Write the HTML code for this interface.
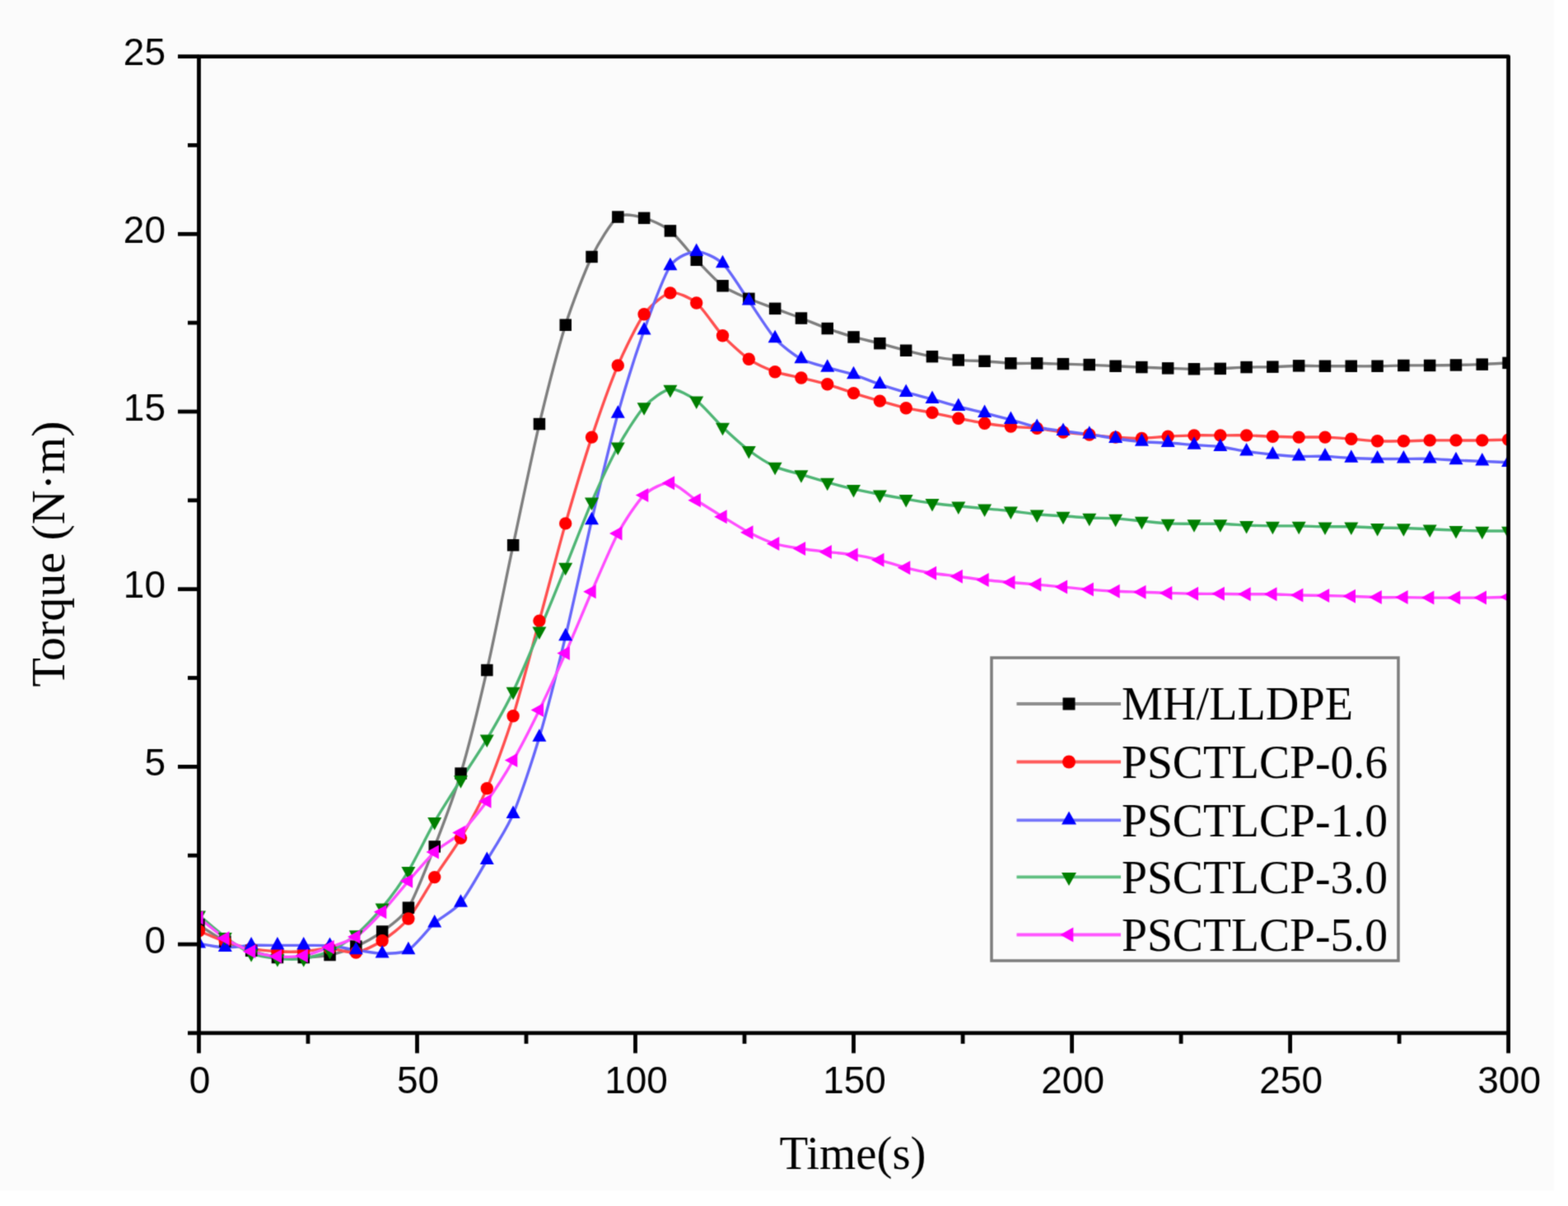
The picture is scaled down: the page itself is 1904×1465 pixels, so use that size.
<!DOCTYPE html><html><head><meta charset="utf-8"><title>Torque vs Time</title><style>html,body{margin:0;padding:0;background:#fff;}svg{display:block;}</style></head><body>
<svg width="1904" height="1465" viewBox="0 0 1904 1465">
<defs><filter id="bl" x="0" y="0" width="100%" height="100%" color-interpolation-filters="sRGB"><feConvolveMatrix order="3" kernelMatrix="0.02768 0.11101 0.02768 0.11101 0.44521 0.11101 0.02768 0.11101 0.02768" divisor="1" edgeMode="duplicate" preserveAlpha="true"/></filter></defs>
<g filter="url(#bl)">
<rect x="0" y="0" width="1904" height="1465" fill="#ffffff"/>
<rect x="0" y="0" width="1887" height="1446" fill="#fbfbfb"/>
<defs><clipPath id="pc"><rect x="241.5" y="68.6" width="1590.1" height="1186.3"/></clipPath></defs>
<g clip-path="url(#pc)" fill="none" stroke-width="3.4" stroke-linejoin="round" stroke-linecap="round">
<path stroke="#7e7e7e" d="M241.5,1123.4C245.5,1125.9 265.4,1139.7 273.3,1143.6C281.3,1147.6 297.2,1152.4 305.1,1154.9C313.1,1157.3 329,1162 336.9,1163.1C344.9,1164.1 360.8,1163.4 368.7,1163.1C376.7,1162.7 392.6,1161.7 400.5,1160C408.5,1158.4 424.4,1153.2 432.3,1149.7C440.3,1146.1 456.2,1137.4 464.1,1131.6C472.1,1125.7 488,1115.6 495.9,1102.7C503.9,1089.8 519.8,1048.8 527.7,1028.5C535.7,1008.1 551.6,966.4 559.5,939.6C567.5,912.8 583.4,848.7 591.3,814.1C599.3,779.4 615.2,699.6 623.1,662.2C631.1,624.8 647,548.5 654.9,515.1C662.9,481.7 678.8,420.1 686.7,394.7C694.7,369.3 710.6,328.3 718.5,311.9C726.5,295.5 742.4,269.5 750.3,263.6C758.3,257.7 774.2,262.8 782.1,264.9C790.1,267 806,274.1 813.9,280.4C821.9,286.8 837.8,307.4 845.7,315.8C853.7,324.2 869.6,341.4 877.5,347.3C885.5,353.2 901.4,359.4 909.3,362.8C917.3,366.3 933.2,371.9 941.1,374.9C949.1,377.9 965,383.5 972.9,386.5C980.9,389.6 996.8,396.2 1004.7,399.1C1012.7,401.9 1028.6,407.1 1036.5,409.4C1044.5,411.7 1060.4,415.1 1068.4,417.2C1076.3,419.2 1092.2,423.8 1100.2,425.8C1108.1,427.8 1124,431.7 1132,433.1C1139.9,434.6 1155.8,436.7 1163.8,437.4C1171.7,438.1 1187.6,438.3 1195.6,438.7C1203.5,439.2 1219.4,441 1227.4,441.3C1235.3,441.7 1251.2,441.2 1259.2,441.3C1267.1,441.4 1283,442 1291,442.2C1298.9,442.4 1314.8,442.7 1322.8,443.1C1330.7,443.4 1346.6,444.4 1354.6,444.8C1362.5,445.2 1378.4,445.8 1386.4,446.1C1394.3,446.4 1410.2,447.1 1418.2,447.4C1426.1,447.6 1442,448.2 1450,448.2C1457.9,448.3 1473.8,448.1 1481.8,447.8C1489.7,447.5 1505.6,446.3 1513.6,446.1C1521.5,445.8 1537.4,445.9 1545.4,445.6C1553.3,445.4 1569.2,444.5 1577.2,444.3C1585.1,444.2 1601,444.7 1609,444.8C1616.9,444.8 1632.8,444.8 1640.8,444.8C1648.7,444.8 1664.6,444.9 1672.6,444.8C1680.5,444.7 1696.4,444 1704.4,443.9C1712.3,443.8 1728.2,444 1736.2,443.9C1744.1,443.9 1760,443.6 1768,443.5C1775.9,443.3 1791.8,442.9 1799.8,442.6C1807.7,442.3 1827.6,441.1 1831.6,440.9"/>
<path stroke="#ff4e4e" d="M241.5,1130.7C245.5,1132.3 265.4,1141 273.3,1143.6C281.3,1146.3 297.2,1150.8 305.1,1152.3C313.1,1153.8 329,1155.3 336.9,1155.7C344.9,1156.2 360.8,1156.2 368.7,1155.7C376.7,1155.3 392.6,1152.1 400.5,1152.3C408.5,1152.4 424.4,1158.2 432.3,1157C440.3,1155.8 456.2,1147.9 464.1,1142.8C472.1,1137.7 488,1125.7 495.9,1116C503.9,1106.4 519.8,1077.8 527.7,1065.6C535.7,1053.3 551.6,1031.6 559.5,1018.1C567.5,1004.6 583.4,976.3 591.3,957.7C599.3,939.2 615.2,895.2 623.1,869.7C631.1,844.3 647,783.3 654.9,754.1C662.9,724.9 678.8,663.8 686.7,635.9C694.7,608 710.6,555.1 718.5,531.1C726.5,507.1 742.4,462.6 750.3,443.9C758.3,425.3 774.2,392.8 782.1,381.8C790.1,370.8 806,357.6 813.9,355.9C821.9,354.2 837.8,361.5 845.7,368C853.7,374.5 869.6,399.2 877.5,407.7C885.5,416.2 901.4,430.7 909.3,436.2C917.3,441.7 933.2,448.8 941.1,451.7C949.1,454.5 965,457.1 972.9,459C980.9,460.9 996.8,464.5 1004.7,466.8C1012.7,469.1 1028.6,475 1036.5,477.6C1044.5,480.1 1060.4,484.8 1068.4,487.1C1076.3,489.3 1092.2,493.9 1100.2,495.7C1108.1,497.5 1124,499.7 1132,501.3C1139.9,502.9 1155.8,506.6 1163.8,508.2C1171.7,509.8 1187.6,513 1195.6,514.2C1203.5,515.5 1219.4,517.4 1227.4,518.1C1235.3,518.9 1251.2,519.4 1259.2,520.3C1267.1,521.1 1283,524.1 1291,525C1298.9,526 1314.8,527.3 1322.8,528C1330.7,528.8 1346.6,530.5 1354.6,531.1C1362.5,531.6 1378.4,532.5 1386.4,532.4C1394.3,532.2 1410.2,530.6 1418.2,530.2C1426.1,529.8 1442,529.1 1450,528.9C1457.9,528.7 1473.8,528.9 1481.8,528.9C1489.7,528.9 1505.6,528.7 1513.6,528.9C1521.5,529.1 1537.4,529.9 1545.4,530.2C1553.3,530.5 1569.2,531 1577.2,531.1C1585.1,531.2 1601,530.8 1609,531.1C1616.9,531.3 1632.8,532.6 1640.8,533.2C1648.7,533.8 1664.6,535.5 1672.6,535.8C1680.5,536.1 1696.4,535.9 1704.4,535.8C1712.3,535.7 1728.2,535.1 1736.2,534.9C1744.1,534.8 1760,534.9 1768,534.9C1775.9,534.9 1791.8,535.1 1799.8,534.9C1807.7,534.8 1827.6,534.2 1831.6,534.1"/>
<path stroke="#6666fa" d="M241.5,1146.2C245.5,1146.8 265.4,1150.7 273.3,1151C281.3,1151.2 297.2,1148.7 305.1,1148.4C313.1,1148.1 329,1148.4 336.9,1148.4C344.9,1148.4 360.8,1148.3 368.7,1148.4C376.7,1148.4 392.6,1148.1 400.5,1148.8C408.5,1149.5 424.4,1152.8 432.3,1154C440.3,1155.2 456.2,1158.3 464.1,1158.3C472.1,1158.3 488,1158.6 495.9,1154C503.9,1149.4 519.8,1128.4 527.7,1121.2C535.7,1114 551.6,1106.2 559.5,1096.6C567.5,1087.1 583.4,1058.3 591.3,1044.9C599.3,1031.4 615.2,1007.4 623.1,988.8C631.1,970.1 647,922.6 654.9,895.6C662.9,868.6 678.8,806 686.7,773.1C694.7,740.1 710.6,665.8 718.5,632C726.5,598.2 742.4,531.4 750.3,502.6C758.3,473.7 774.2,423.6 782.1,401.2C790.1,378.8 806,335 813.9,323.1C821.9,311.2 837.8,306.2 845.7,305.9C853.7,305.5 869.6,312.7 877.5,320.1C885.5,327.5 901.4,354 909.3,365.4C917.3,376.8 933.2,402.3 941.1,411.1C949.1,420 965,431.7 972.9,436.1C980.9,440.6 996.8,444.1 1004.7,446.5C1012.7,448.9 1028.6,452.6 1036.5,455.1C1044.5,457.7 1060.4,464.1 1068.4,466.8C1076.3,469.5 1092.2,474.4 1100.2,476.7C1108.1,479 1124,482.7 1132,484.9C1139.9,487.1 1155.8,491.9 1163.8,494C1171.7,496.1 1187.6,499.7 1195.6,501.7C1203.5,503.7 1219.4,507.8 1227.4,509.9C1235.3,512.1 1251.2,517.3 1259.2,519C1267.1,520.7 1283,522.6 1291,523.7C1298.9,524.8 1314.8,526.5 1322.8,527.6C1330.7,528.7 1346.6,531.6 1354.6,532.8C1362.5,533.9 1378.4,536 1386.4,536.7C1394.3,537.3 1410.2,537.5 1418.2,538C1426.1,538.4 1442,540 1450,540.5C1457.9,541.1 1473.8,541.7 1481.8,542.7C1489.7,543.7 1505.6,547.1 1513.6,548.3C1521.5,549.5 1537.4,551.4 1545.4,552.2C1553.3,552.9 1569.2,554.1 1577.2,554.4C1585.1,554.6 1601,554.1 1609,554.4C1616.9,554.6 1632.8,556.1 1640.8,556.5C1648.7,556.9 1664.6,557.3 1672.6,557.4C1680.5,557.5 1696.4,557.4 1704.4,557.4C1712.3,557.4 1728.2,557.2 1736.2,557.4C1744.1,557.6 1760,558.7 1768,559.1C1775.9,559.5 1791.8,560.1 1799.8,560.4C1807.7,560.7 1827.6,561.5 1831.6,561.7"/>
<path stroke="#4eb574" d="M241.5,1111.7C245.5,1115 265.4,1132.2 273.3,1138C281.3,1143.9 297.2,1155 305.1,1158.3C313.1,1161.6 329,1163.6 336.9,1164.4C344.9,1165.1 360.8,1165.5 368.7,1164.4C376.7,1163.2 392.6,1158.9 400.5,1155.3C408.5,1151.7 424.4,1142 432.3,1135.5C440.3,1128.9 456.2,1112.3 464.1,1102.7C472.1,1093 488,1071.3 495.9,1058.2C503.9,1045.2 519.8,1012.1 527.7,998.3C535.7,984.4 551.6,959.9 559.5,947.4C567.5,934.8 583.4,911.2 591.3,897.8C599.3,884.3 615.2,856.3 623.1,839.9C631.1,823.6 647,785.5 654.9,766.6C662.9,747.7 678.8,708.6 686.7,689C694.7,669.3 710.6,627.9 718.5,609.6C726.5,591.3 742.4,557.1 750.3,542.7C758.3,528.3 774.2,503.1 782.1,494.4C790.1,485.7 806,473.8 813.9,472.8C821.9,471.9 837.8,480.9 845.7,486.6C853.7,492.4 869.6,511.4 877.5,519C885.5,526.5 901.4,541 909.3,547C917.3,553 933.2,563.2 941.1,566.9C949.1,570.5 965,574 972.9,576.4C980.9,578.7 996.8,583.6 1004.7,585.9C1012.7,588.1 1028.6,592.2 1036.5,594.1C1044.5,595.9 1060.4,599 1068.4,600.5C1076.3,602 1092.2,604.8 1100.2,606.1C1108.1,607.5 1124,610.2 1132,611.3C1139.9,612.4 1155.8,613.9 1163.8,614.8C1171.7,615.6 1187.6,617 1195.6,617.8C1203.5,618.5 1219.4,619.9 1227.4,620.8C1235.3,621.7 1251.2,623.9 1259.2,624.7C1267.1,625.4 1283,626.3 1291,626.8C1298.9,627.4 1314.8,628.6 1322.8,629C1330.7,629.4 1346.6,629.4 1354.6,629.9C1362.5,630.3 1378.4,632.1 1386.4,632.9C1394.3,633.6 1410.2,635.5 1418.2,635.9C1426.1,636.3 1442,636.3 1450,636.3C1457.9,636.4 1473.8,636.1 1481.8,636.3C1489.7,636.5 1505.6,637.7 1513.6,638.1C1521.5,638.4 1537.4,638.8 1545.4,638.9C1553.3,639 1569.2,638.8 1577.2,638.9C1585.1,639 1601,639.7 1609,639.8C1616.9,639.9 1632.8,639.6 1640.8,639.8C1648.7,639.9 1664.6,640.9 1672.6,641.1C1680.5,641.3 1696.4,641.3 1704.4,641.5C1712.3,641.7 1728.2,642.5 1736.2,642.8C1744.1,643.1 1760,643.8 1768,644.1C1775.9,644.4 1791.8,644.8 1799.8,645C1807.7,645.1 1827.6,645 1831.6,645"/>
<path stroke="#ff4cff" d="M241.5,1114.7C245.5,1117.9 265.4,1134.6 273.3,1139.8C281.3,1144.9 297.2,1153 305.1,1155.7C313.1,1158.5 329,1161.1 336.9,1161.8C344.9,1162.4 360.8,1162.3 368.7,1160.9C376.7,1159.5 392.6,1153.4 400.5,1150.6C408.5,1147.7 424.4,1143.4 432.3,1138C440.3,1132.7 456.2,1116.3 464.1,1107.8C472.1,1099.4 488,1079.4 495.9,1070.3C503.9,1061.2 519.8,1042.3 527.7,1034.9C535.7,1027.6 551.6,1019.4 559.5,1011.6C567.5,1003.9 583.4,984.2 591.3,973.2C599.3,962.2 615.2,937.5 623.1,923.6C631.1,909.8 647,878.7 654.9,862.4C662.9,846.1 678.8,811.3 686.7,793.4C694.7,775.4 710.6,736.9 718.5,718.7C726.5,700.5 742.4,662.6 750.3,648C758.3,633.3 774.2,609 782.1,601.4C790.1,593.7 806,585.9 813.9,586.7C821.9,587.5 837.8,602.7 845.7,607.8C853.7,613 869.6,622.8 877.5,627.7C885.5,632.5 901.4,642.6 909.3,646.7C917.3,650.8 933.2,658 941.1,660.5C949.1,663 965,665.3 972.9,666.5C980.9,667.8 996.8,669.5 1004.7,670.4C1012.7,671.3 1028.6,672.6 1036.5,673.9C1044.5,675.1 1060.4,678.3 1068.4,680.3C1076.3,682.3 1092.2,687.8 1100.2,689.8C1108.1,691.8 1124,695 1132,696.3C1139.9,697.6 1155.8,699.1 1163.8,700.2C1171.7,701.2 1187.6,703.6 1195.6,704.5C1203.5,705.4 1219.4,706.8 1227.4,707.5C1235.3,708.2 1251.2,709.4 1259.2,710.1C1267.1,710.8 1283,712.4 1291,713.1C1298.9,713.9 1314.8,715.5 1322.8,716.1C1330.7,716.8 1346.6,717.9 1354.6,718.3C1362.5,718.7 1378.4,718.9 1386.4,719.2C1394.3,719.4 1410.2,720.2 1418.2,720.4C1426.1,720.7 1442,721.2 1450,721.3C1457.9,721.4 1473.8,721.3 1481.8,721.3C1489.7,721.4 1505.6,721.7 1513.6,721.7C1521.5,721.8 1537.4,721.6 1545.4,721.7C1553.3,721.9 1569.2,722.8 1577.2,723C1585.1,723.2 1601,723.3 1609,723.5C1616.9,723.6 1632.8,724.1 1640.8,724.3C1648.7,724.6 1664.6,725.5 1672.6,725.6C1680.5,725.8 1696.4,725.6 1704.4,725.6C1712.3,725.7 1728.2,726 1736.2,726.1C1744.1,726.1 1760,726.1 1768,726.1C1775.9,726.1 1791.8,726.2 1799.8,726.1C1807.7,725.9 1827.6,725.3 1831.6,725.2"/>
</g>
<g clip-path="url(#pc)">
<g fill="#000000">
<rect x="234.2" y="1116.1" width="14.5" height="14.5"/>
<rect x="266.1" y="1136.4" width="14.5" height="14.5"/>
<rect x="297.9" y="1147.6" width="14.5" height="14.5"/>
<rect x="329.7" y="1155.8" width="14.5" height="14.5"/>
<rect x="361.5" y="1155.8" width="14.5" height="14.5"/>
<rect x="393.3" y="1152.8" width="14.5" height="14.5"/>
<rect x="425.1" y="1142.4" width="14.5" height="14.5"/>
<rect x="456.9" y="1124.3" width="14.5" height="14.5"/>
<rect x="488.7" y="1095.4" width="14.5" height="14.5"/>
<rect x="520.5" y="1021.2" width="14.5" height="14.5"/>
<rect x="552.3" y="932.3" width="14.5" height="14.5"/>
<rect x="584.1" y="806.8" width="14.5" height="14.5"/>
<rect x="615.9" y="655" width="14.5" height="14.5"/>
<rect x="647.7" y="507.8" width="14.5" height="14.5"/>
<rect x="679.5" y="387.5" width="14.5" height="14.5"/>
<rect x="711.3" y="304.7" width="14.5" height="14.5"/>
<rect x="743.1" y="256.3" width="14.5" height="14.5"/>
<rect x="774.9" y="257.6" width="14.5" height="14.5"/>
<rect x="806.7" y="273.2" width="14.5" height="14.5"/>
<rect x="838.5" y="308.5" width="14.5" height="14.5"/>
<rect x="870.3" y="340" width="14.5" height="14.5"/>
<rect x="902.1" y="355.6" width="14.5" height="14.5"/>
<rect x="933.9" y="367.6" width="14.5" height="14.5"/>
<rect x="965.7" y="379.3" width="14.5" height="14.5"/>
<rect x="997.5" y="391.8" width="14.5" height="14.5"/>
<rect x="1029.3" y="402.2" width="14.5" height="14.5"/>
<rect x="1061.1" y="409.9" width="14.5" height="14.5"/>
<rect x="1092.9" y="418.5" width="14.5" height="14.5"/>
<rect x="1124.7" y="425.9" width="14.5" height="14.5"/>
<rect x="1156.5" y="430.2" width="14.5" height="14.5"/>
<rect x="1188.3" y="431.5" width="14.5" height="14.5"/>
<rect x="1220.1" y="434.1" width="14.5" height="14.5"/>
<rect x="1251.9" y="434.1" width="14.5" height="14.5"/>
<rect x="1283.7" y="434.9" width="14.5" height="14.5"/>
<rect x="1315.5" y="435.8" width="14.5" height="14.5"/>
<rect x="1347.3" y="437.5" width="14.5" height="14.5"/>
<rect x="1379.1" y="438.8" width="14.5" height="14.5"/>
<rect x="1410.9" y="440.1" width="14.5" height="14.5"/>
<rect x="1442.7" y="441" width="14.5" height="14.5"/>
<rect x="1474.5" y="440.6" width="14.5" height="14.5"/>
<rect x="1506.3" y="438.8" width="14.5" height="14.5"/>
<rect x="1538.1" y="438.4" width="14.5" height="14.5"/>
<rect x="1569.9" y="437.1" width="14.5" height="14.5"/>
<rect x="1601.7" y="437.5" width="14.5" height="14.5"/>
<rect x="1633.5" y="437.5" width="14.5" height="14.5"/>
<rect x="1665.3" y="437.5" width="14.5" height="14.5"/>
<rect x="1697.1" y="436.7" width="14.5" height="14.5"/>
<rect x="1728.9" y="436.7" width="14.5" height="14.5"/>
<rect x="1760.7" y="436.2" width="14.5" height="14.5"/>
<rect x="1792.5" y="435.4" width="14.5" height="14.5"/>
<rect x="1824.3" y="433.6" width="14.5" height="14.5"/>
</g>
<g fill="#ff0000">
<circle cx="241.5" cy="1130.7" r="7.7"/>
<circle cx="273.3" cy="1143.6" r="7.7"/>
<circle cx="305.1" cy="1152.3" r="7.7"/>
<circle cx="336.9" cy="1155.7" r="7.7"/>
<circle cx="368.7" cy="1155.7" r="7.7"/>
<circle cx="400.5" cy="1152.3" r="7.7"/>
<circle cx="432.3" cy="1157" r="7.7"/>
<circle cx="464.1" cy="1142.8" r="7.7"/>
<circle cx="495.9" cy="1116" r="7.7"/>
<circle cx="527.7" cy="1065.6" r="7.7"/>
<circle cx="559.5" cy="1018.1" r="7.7"/>
<circle cx="591.3" cy="957.7" r="7.7"/>
<circle cx="623.1" cy="869.7" r="7.7"/>
<circle cx="654.9" cy="754.1" r="7.7"/>
<circle cx="686.7" cy="635.9" r="7.7"/>
<circle cx="718.5" cy="531.1" r="7.7"/>
<circle cx="750.3" cy="443.9" r="7.7"/>
<circle cx="782.1" cy="381.8" r="7.7"/>
<circle cx="813.9" cy="355.9" r="7.7"/>
<circle cx="845.7" cy="368" r="7.7"/>
<circle cx="877.5" cy="407.7" r="7.7"/>
<circle cx="909.3" cy="436.2" r="7.7"/>
<circle cx="941.1" cy="451.7" r="7.7"/>
<circle cx="972.9" cy="459" r="7.7"/>
<circle cx="1004.7" cy="466.8" r="7.7"/>
<circle cx="1036.5" cy="477.6" r="7.7"/>
<circle cx="1068.4" cy="487.1" r="7.7"/>
<circle cx="1100.2" cy="495.7" r="7.7"/>
<circle cx="1132" cy="501.3" r="7.7"/>
<circle cx="1163.8" cy="508.2" r="7.7"/>
<circle cx="1195.6" cy="514.2" r="7.7"/>
<circle cx="1227.4" cy="518.1" r="7.7"/>
<circle cx="1259.2" cy="520.3" r="7.7"/>
<circle cx="1291" cy="525" r="7.7"/>
<circle cx="1322.8" cy="528" r="7.7"/>
<circle cx="1354.6" cy="531.1" r="7.7"/>
<circle cx="1386.4" cy="532.4" r="7.7"/>
<circle cx="1418.2" cy="530.2" r="7.7"/>
<circle cx="1450" cy="528.9" r="7.7"/>
<circle cx="1481.8" cy="528.9" r="7.7"/>
<circle cx="1513.6" cy="528.9" r="7.7"/>
<circle cx="1545.4" cy="530.2" r="7.7"/>
<circle cx="1577.2" cy="531.1" r="7.7"/>
<circle cx="1609" cy="531.1" r="7.7"/>
<circle cx="1640.8" cy="533.2" r="7.7"/>
<circle cx="1672.6" cy="535.8" r="7.7"/>
<circle cx="1704.4" cy="535.8" r="7.7"/>
<circle cx="1736.2" cy="534.9" r="7.7"/>
<circle cx="1768" cy="534.9" r="7.7"/>
<circle cx="1799.8" cy="534.9" r="7.7"/>
<circle cx="1831.6" cy="534.1" r="7.7"/>
</g>
<g fill="#0000ff">
<path d="M241.5,1135.9L250,1151.4L233,1151.4Z"/>
<path d="M273.3,1140.6L281.8,1156.1L264.8,1156.1Z"/>
<path d="M305.1,1138.1L313.6,1153.6L296.6,1153.6Z"/>
<path d="M336.9,1138.1L345.4,1153.6L328.4,1153.6Z"/>
<path d="M368.7,1138.1L377.2,1153.6L360.2,1153.6Z"/>
<path d="M400.5,1138.5L409,1154L392,1154Z"/>
<path d="M432.3,1143.7L440.8,1159.2L423.8,1159.2Z"/>
<path d="M464.1,1148L472.6,1163.5L455.6,1163.5Z"/>
<path d="M495.9,1143.7L504.4,1159.2L487.4,1159.2Z"/>
<path d="M527.7,1110.9L536.2,1126.4L519.2,1126.4Z"/>
<path d="M559.5,1086.3L568,1101.8L551,1101.8Z"/>
<path d="M591.3,1034.5L599.8,1050L582.8,1050Z"/>
<path d="M623.1,978.4L631.6,993.9L614.6,993.9Z"/>
<path d="M654.9,885.3L663.4,900.8L646.4,900.8Z"/>
<path d="M686.7,762.7L695.2,778.2L678.2,778.2Z"/>
<path d="M718.5,621.7L727,637.2L710,637.2Z"/>
<path d="M750.3,492.2L758.8,507.7L741.8,507.7Z"/>
<path d="M782.1,390.9L790.6,406.4L773.6,406.4Z"/>
<path d="M813.9,312.8L822.4,328.3L805.4,328.3Z"/>
<path d="M845.7,295.5L854.2,311L837.2,311Z"/>
<path d="M877.5,309.8L886,325.3L869,325.3Z"/>
<path d="M909.3,355.1L917.8,370.6L900.8,370.6Z"/>
<path d="M941.1,400.8L949.6,416.3L932.6,416.3Z"/>
<path d="M972.9,425.8L981.4,441.3L964.4,441.3Z"/>
<path d="M1004.7,436.2L1013.2,451.7L996.2,451.7Z"/>
<path d="M1036.5,444.8L1045,460.3L1028,460.3Z"/>
<path d="M1068.4,456.4L1076.9,471.9L1059.9,471.9Z"/>
<path d="M1100.2,466.4L1108.7,481.9L1091.7,481.9Z"/>
<path d="M1132,474.6L1140.5,490.1L1123.5,490.1Z"/>
<path d="M1163.8,483.6L1172.3,499.1L1155.3,499.1Z"/>
<path d="M1195.6,491.4L1204.1,506.9L1187.1,506.9Z"/>
<path d="M1227.4,499.6L1235.9,515.1L1218.9,515.1Z"/>
<path d="M1259.2,508.6L1267.7,524.1L1250.7,524.1Z"/>
<path d="M1291,513.4L1299.5,528.9L1282.5,528.9Z"/>
<path d="M1322.8,517.3L1331.3,532.8L1314.3,532.8Z"/>
<path d="M1354.6,522.4L1363.1,537.9L1346.1,537.9Z"/>
<path d="M1386.4,526.3L1394.9,541.8L1377.9,541.8Z"/>
<path d="M1418.2,527.6L1426.7,543.1L1409.7,543.1Z"/>
<path d="M1450,530.2L1458.5,545.7L1441.5,545.7Z"/>
<path d="M1481.8,532.4L1490.3,547.9L1473.3,547.9Z"/>
<path d="M1513.6,538L1522.1,553.5L1505.1,553.5Z"/>
<path d="M1545.4,541.9L1553.9,557.4L1536.9,557.4Z"/>
<path d="M1577.2,544L1585.7,559.5L1568.7,559.5Z"/>
<path d="M1609,544L1617.5,559.5L1600.5,559.5Z"/>
<path d="M1640.8,546.2L1649.3,561.7L1632.3,561.7Z"/>
<path d="M1672.6,547L1681.1,562.5L1664.1,562.5Z"/>
<path d="M1704.4,547L1712.9,562.5L1695.9,562.5Z"/>
<path d="M1736.2,547L1744.7,562.5L1727.7,562.5Z"/>
<path d="M1768,548.8L1776.5,564.3L1759.5,564.3Z"/>
<path d="M1799.8,550.1L1808.3,565.6L1791.3,565.6Z"/>
<path d="M1831.6,551.4L1840.1,566.9L1823.1,566.9Z"/>
</g>
<g fill="#007f00">
<path d="M233,1106.6L250,1106.6L241.5,1122.1Z"/>
<path d="M264.8,1132.9L281.8,1132.9L273.3,1148.4Z"/>
<path d="M296.6,1153.2L313.6,1153.2L305.1,1168.7Z"/>
<path d="M328.4,1159.2L345.4,1159.2L336.9,1174.7Z"/>
<path d="M360.2,1159.2L377.2,1159.2L368.7,1174.7Z"/>
<path d="M392,1150.1L409,1150.1L400.5,1165.6Z"/>
<path d="M423.8,1130.3L440.8,1130.3L432.3,1145.8Z"/>
<path d="M455.6,1097.5L472.6,1097.5L464.1,1113Z"/>
<path d="M487.4,1053.1L504.4,1053.1L495.9,1068.6Z"/>
<path d="M519.2,993.1L536.2,993.1L527.7,1008.6Z"/>
<path d="M551,942.2L568,942.2L559.5,957.7Z"/>
<path d="M582.8,892.6L599.8,892.6L591.3,908.1Z"/>
<path d="M614.6,834.8L631.6,834.8L623.1,850.3Z"/>
<path d="M646.4,761.4L663.4,761.4L654.9,776.9Z"/>
<path d="M678.2,683.8L695.2,683.8L686.7,699.3Z"/>
<path d="M710,604.4L727,604.4L718.5,619.9Z"/>
<path d="M741.8,537.5L758.8,537.5L750.3,553Z"/>
<path d="M773.6,489.2L790.6,489.2L782.1,504.7Z"/>
<path d="M805.4,467.7L822.4,467.7L813.9,483.2Z"/>
<path d="M837.2,481.5L854.2,481.5L845.7,497Z"/>
<path d="M869,513.8L886,513.8L877.5,529.3Z"/>
<path d="M900.8,541.9L917.8,541.9L909.3,557.4Z"/>
<path d="M932.6,561.7L949.6,561.7L941.1,577.2Z"/>
<path d="M964.4,571.2L981.4,571.2L972.9,586.7Z"/>
<path d="M996.2,580.7L1013.2,580.7L1004.7,596.2Z"/>
<path d="M1028,588.9L1045,588.9L1036.5,604.4Z"/>
<path d="M1059.9,595.4L1076.9,595.4L1068.4,610.9Z"/>
<path d="M1091.7,601L1108.7,601L1100.2,616.5Z"/>
<path d="M1123.5,606.1L1140.5,606.1L1132,621.6Z"/>
<path d="M1155.3,609.6L1172.3,609.6L1163.8,625.1Z"/>
<path d="M1187.1,612.6L1204.1,612.6L1195.6,628.1Z"/>
<path d="M1218.9,615.6L1235.9,615.6L1227.4,631.1Z"/>
<path d="M1250.7,619.5L1267.7,619.5L1259.2,635Z"/>
<path d="M1282.5,621.7L1299.5,621.7L1291,637.2Z"/>
<path d="M1314.3,623.8L1331.3,623.8L1322.8,639.3Z"/>
<path d="M1346.1,624.7L1363.1,624.7L1354.6,640.2Z"/>
<path d="M1377.9,627.7L1394.9,627.7L1386.4,643.2Z"/>
<path d="M1409.7,630.7L1426.7,630.7L1418.2,646.2Z"/>
<path d="M1441.5,631.2L1458.5,631.2L1450,646.7Z"/>
<path d="M1473.3,631.2L1490.3,631.2L1481.8,646.7Z"/>
<path d="M1505.1,632.9L1522.1,632.9L1513.6,648.4Z"/>
<path d="M1536.9,633.7L1553.9,633.7L1545.4,649.2Z"/>
<path d="M1568.7,633.7L1585.7,633.7L1577.2,649.2Z"/>
<path d="M1600.5,634.6L1617.5,634.6L1609,650.1Z"/>
<path d="M1632.3,634.6L1649.3,634.6L1640.8,650.1Z"/>
<path d="M1664.1,635.9L1681.1,635.9L1672.6,651.4Z"/>
<path d="M1695.9,636.3L1712.9,636.3L1704.4,651.8Z"/>
<path d="M1727.7,637.6L1744.7,637.6L1736.2,653.1Z"/>
<path d="M1759.5,638.9L1776.5,638.9L1768,654.4Z"/>
<path d="M1791.3,639.8L1808.3,639.8L1799.8,655.3Z"/>
<path d="M1823.1,639.8L1840.1,639.8L1831.6,655.3Z"/>
</g>
<g fill="#ff00ff">
<path d="M231.2,1114.7L246.7,1106.2L246.7,1123.2Z"/>
<path d="M263,1139.8L278.5,1131.3L278.5,1148.3Z"/>
<path d="M294.8,1155.7L310.3,1147.2L310.3,1164.2Z"/>
<path d="M326.6,1161.8L342.1,1153.3L342.1,1170.3Z"/>
<path d="M358.4,1160.9L373.9,1152.4L373.9,1169.4Z"/>
<path d="M390.2,1150.6L405.7,1142.1L405.7,1159.1Z"/>
<path d="M422,1138L437.5,1129.5L437.5,1146.5Z"/>
<path d="M453.8,1107.8L469.3,1099.3L469.3,1116.3Z"/>
<path d="M485.6,1070.3L501.1,1061.8L501.1,1078.8Z"/>
<path d="M517.4,1034.9L532.9,1026.4L532.9,1043.4Z"/>
<path d="M549.2,1011.6L564.7,1003.1L564.7,1020.1Z"/>
<path d="M581,973.2L596.5,964.7L596.5,981.7Z"/>
<path d="M612.8,923.6L628.3,915.1L628.3,932.1Z"/>
<path d="M644.6,862.4L660.1,853.9L660.1,870.9Z"/>
<path d="M676.4,793.4L691.9,784.9L691.9,801.9Z"/>
<path d="M708.2,718.7L723.7,710.2L723.7,727.2Z"/>
<path d="M740,648L755.5,639.5L755.5,656.5Z"/>
<path d="M771.8,601.4L787.3,592.9L787.3,609.9Z"/>
<path d="M803.6,586.7L819.1,578.2L819.1,595.2Z"/>
<path d="M835.4,607.8L850.9,599.3L850.9,616.3Z"/>
<path d="M867.2,627.7L882.7,619.2L882.7,636.2Z"/>
<path d="M899,646.7L914.5,638.2L914.5,655.2Z"/>
<path d="M930.8,660.5L946.3,652L946.3,669Z"/>
<path d="M962.6,666.5L978.1,658L978.1,675Z"/>
<path d="M994.4,670.4L1009.9,661.9L1009.9,678.9Z"/>
<path d="M1026.2,673.9L1041.7,665.4L1041.7,682.4Z"/>
<path d="M1058,680.3L1073.5,671.8L1073.5,688.8Z"/>
<path d="M1089.8,689.8L1105.3,681.3L1105.3,698.3Z"/>
<path d="M1121.6,696.3L1137.1,687.8L1137.1,704.8Z"/>
<path d="M1153.4,700.2L1168.9,691.7L1168.9,708.7Z"/>
<path d="M1185.2,704.5L1200.7,696L1200.7,713Z"/>
<path d="M1217,707.5L1232.5,699L1232.5,716Z"/>
<path d="M1248.8,710.1L1264.3,701.6L1264.3,718.6Z"/>
<path d="M1280.6,713.1L1296.1,704.6L1296.1,721.6Z"/>
<path d="M1312.4,716.1L1327.9,707.6L1327.9,724.6Z"/>
<path d="M1344.2,718.3L1359.7,709.8L1359.7,726.8Z"/>
<path d="M1376,719.2L1391.5,710.7L1391.5,727.7Z"/>
<path d="M1407.8,720.4L1423.3,711.9L1423.3,728.9Z"/>
<path d="M1439.6,721.3L1455.1,712.8L1455.1,729.8Z"/>
<path d="M1471.4,721.3L1486.9,712.8L1486.9,729.8Z"/>
<path d="M1503.2,721.7L1518.7,713.2L1518.7,730.2Z"/>
<path d="M1535,721.7L1550.5,713.2L1550.5,730.2Z"/>
<path d="M1566.9,723L1582.4,714.5L1582.4,731.5Z"/>
<path d="M1598.7,723.5L1614.2,715L1614.2,732Z"/>
<path d="M1630.5,724.3L1646,715.8L1646,732.8Z"/>
<path d="M1662.3,725.6L1677.8,717.1L1677.8,734.1Z"/>
<path d="M1694.1,725.6L1709.6,717.1L1709.6,734.1Z"/>
<path d="M1725.9,726.1L1741.4,717.6L1741.4,734.6Z"/>
<path d="M1757.7,726.1L1773.2,717.6L1773.2,734.6Z"/>
<path d="M1789.5,726.1L1805,717.6L1805,734.6Z"/>
<path d="M1821.3,725.2L1836.8,716.7L1836.8,733.7Z"/>
</g>
</g>
<g stroke="#000" stroke-width="4.8" fill="none" stroke-linecap="butt">
<rect x="241.5" y="68.6" width="1590.1" height="1186.3" stroke-linejoin="round"/>
<line x1="216" y1="68.6" x2="241.5" y2="68.6"/>
<line x1="228" y1="176.4" x2="241.5" y2="176.4"/>
<line x1="216" y1="284.3" x2="241.5" y2="284.3"/>
<line x1="228" y1="392.1" x2="241.5" y2="392.1"/>
<line x1="216" y1="500" x2="241.5" y2="500"/>
<line x1="228" y1="607.8" x2="241.5" y2="607.8"/>
<line x1="216" y1="715.7" x2="241.5" y2="715.7"/>
<line x1="228" y1="823.5" x2="241.5" y2="823.5"/>
<line x1="216" y1="931.4" x2="241.5" y2="931.4"/>
<line x1="228" y1="1039.2" x2="241.5" y2="1039.2"/>
<line x1="216" y1="1147.1" x2="241.5" y2="1147.1"/>
<line x1="228" y1="1254.9" x2="241.5" y2="1254.9"/>
<line x1="241.5" y1="1254.9" x2="241.5" y2="1279.4"/>
<line x1="374" y1="1254.9" x2="374" y2="1267.9"/>
<line x1="506.5" y1="1254.9" x2="506.5" y2="1279.4"/>
<line x1="639" y1="1254.9" x2="639" y2="1267.9"/>
<line x1="771.5" y1="1254.9" x2="771.5" y2="1279.4"/>
<line x1="904" y1="1254.9" x2="904" y2="1267.9"/>
<line x1="1036.5" y1="1254.9" x2="1036.5" y2="1279.4"/>
<line x1="1169.1" y1="1254.9" x2="1169.1" y2="1267.9"/>
<line x1="1301.6" y1="1254.9" x2="1301.6" y2="1279.4"/>
<line x1="1434.1" y1="1254.9" x2="1434.1" y2="1267.9"/>
<line x1="1566.6" y1="1254.9" x2="1566.6" y2="1279.4"/>
<line x1="1699.1" y1="1254.9" x2="1699.1" y2="1267.9"/>
<line x1="1831.6" y1="1254.9" x2="1831.6" y2="1279.4"/>
</g>
<g font-family="'Liberation Sans', Arial, sans-serif" font-size="46" fill="#000">
<text x="201" y="79.3" text-anchor="end">25</text>
<text x="201" y="295" text-anchor="end">20</text>
<text x="201" y="510.7" text-anchor="end">15</text>
<text x="201" y="726.4" text-anchor="end">10</text>
<text x="201" y="942.1" text-anchor="end">5</text>
<text x="201" y="1157.8" text-anchor="end">0</text>
<text x="242.5" y="1327.7" text-anchor="middle">0</text>
<text x="507.5" y="1327.7" text-anchor="middle">50</text>
<text x="772.5" y="1327.7" text-anchor="middle">100</text>
<text x="1037.5" y="1327.7" text-anchor="middle">150</text>
<text x="1302.6" y="1327.7" text-anchor="middle">200</text>
<text x="1567.6" y="1327.7" text-anchor="middle">250</text>
<text x="1832.6" y="1327.7" text-anchor="middle">300</text>
</g>
<g font-family="'Liberation Serif', 'Times New Roman', serif" font-size="58" fill="#000">
<text x="1035.5" y="1419.5" text-anchor="middle" textLength="178" lengthAdjust="spacingAndGlyphs">Time(s)</text>
<text transform="translate(77.5,673) rotate(-90)" text-anchor="middle">Torque (N&#183;m)</text>
</g>
<rect x="1204" y="799" width="494" height="368" fill="none" stroke="#7d7d7d" stroke-width="3.5"/>
<g font-family="'Liberation Serif', 'Times New Roman', serif" font-size="57" fill="#000">
<line x1="1234.5" y1="855" x2="1361" y2="855" stroke="#8e8e8e" stroke-width="3.8"/>
<g fill="#000000"><rect x="1290.5" y="847.5" width="15" height="15"/></g>
<text x="1362" y="874.2" textLength="281" lengthAdjust="spacingAndGlyphs">MH/LLDPE</text>
<line x1="1234.5" y1="925.5" x2="1361" y2="925.5" stroke="#ff5a5a" stroke-width="3.8"/>
<g fill="#ff0000"><circle cx="1298" cy="925.5" r="8"/></g>
<text x="1362" y="944.7" textLength="323" lengthAdjust="spacingAndGlyphs">PSCTLCP-0.6</text>
<line x1="1234.5" y1="996.3" x2="1361" y2="996.3" stroke="#7474fa" stroke-width="3.8"/>
<g fill="#0000ff"><path d="M1298,985.6L1307,1001.6L1289,1001.6Z"/></g>
<text x="1362" y="1015.5" textLength="323" lengthAdjust="spacingAndGlyphs">PSCTLCP-1.0</text>
<line x1="1234.5" y1="1065.4" x2="1361" y2="1065.4" stroke="#5fbf80" stroke-width="3.8"/>
<g fill="#007f00"><path d="M1289,1060.1L1307,1060.1L1298,1076.1Z"/></g>
<text x="1362" y="1084.6" textLength="323" lengthAdjust="spacingAndGlyphs">PSCTLCP-3.0</text>
<line x1="1234.5" y1="1135.5" x2="1361" y2="1135.5" stroke="#ff55ff" stroke-width="3.8"/>
<g fill="#ff00ff"><path d="M1287.3,1135.5L1303.3,1126.5L1303.3,1144.5Z"/></g>
<text x="1362" y="1154.7" textLength="323" lengthAdjust="spacingAndGlyphs">PSCTLCP-5.0</text>
</g>
</g>
</svg></body></html>
